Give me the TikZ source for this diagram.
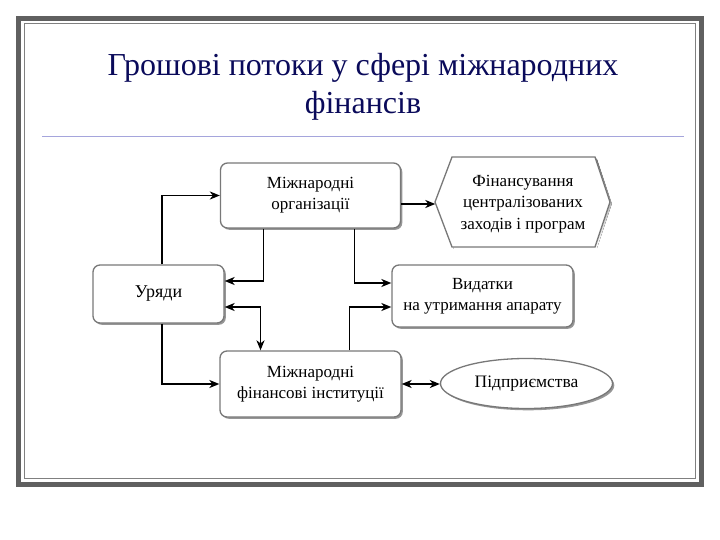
\documentclass[tikz,border=0pt]{standalone}
\usepackage{fontspec}
\setmainfont{Liberation Serif}
\usetikzlibrary{shapes.geometric,arrows.meta,shadows,calc}
\definecolor{titleblue}{RGB}{10,10,90}
\definecolor{rulelav}{RGB}{165,165,220}
\definecolor{boxedge}{RGB}{120,120,120}
\definecolor{shade}{RGB}{150,150,150}
\begin{document}
\begin{tikzpicture}[x=1pt,y=-1pt,
  box/.style={draw=boxedge, line width=1.3pt, rounded corners=7pt, fill=white,
    drop shadow={shadow xshift=1.8pt,shadow yshift=-1.8pt,fill=shade,opacity=1},
    inner sep=0pt, align=center, font=\fontsize{17}{21}\selectfont},
  oval/.style={ellipse, draw=boxedge, line width=1.3pt, fill=white,
    drop shadow={shadow xshift=1.8pt,shadow yshift=-1.8pt,fill=shade,opacity=1},
    inner sep=0pt, font=\fontsize{17.5}{21}\selectfont},
  conn/.style={line width=1.7pt, -{Stealth[length=10pt,width=8pt,inset=3pt]}},
  biconn/.style={line width=1.7pt, {Stealth[length=10pt,width=8pt,inset=3pt]}-{Stealth[length=10pt,width=8pt,inset=3pt]}},
]
\useasboundingbox (0,0) rectangle (720,540);
% frame
\draw[line width=5pt, gray!75!black] (18.5,18.5) rectangle (701.5,484.5);
\draw[line width=1pt, gray] (24,24) rectangle (695.5,478);
% title
\node[font=\fontsize{32}{38}\selectfont, text=titleblue, align=center] (title) at (363,87)
  {Грошові потоки у сфері міжнародних\\фінансів};
\draw[rulelav, line width=0.8pt] (42,136) -- (684,136);
% hexagon (drawn behind its node)
\fill[shade] (453.8,158.8) -- (596.8,158.8) -- (611.8,203.8) -- (596.8,248.8) -- (453.8,248.8) -- (436.8,203.8) -- cycle;
\filldraw[draw=boxedge, fill=white, line width=1.3pt] (452,157) -- (595,157) -- (610,202) -- (595,247) -- (452,247) -- (435,202) -- cycle;
\node[minimum width=175, minimum height=90, inner sep=0pt, align=center,
  font=\fontsize{17}{21.5}\selectfont] (hex) at (523,204)
  {Фінансування\\централізованих\\заходів і програм};
% boxes
\node[box, minimum width=180, minimum height=65] (mo) at (310.5,195.5) {Міжнародні\\організації};
\node[box, minimum width=131, minimum height=58, font=\fontsize{18}{21}\selectfont] (ur) at (158.5,294) {Уряди};
\node[box, minimum width=181, minimum height=62] (vy) at (482.5,296) {Видатки\\на утримання апарату};
\node[box, minimum width=181, minimum height=66] (mfi) at (310.5,384) {Міжнародні\\фінансові інституції};
\node[oval, minimum width=172, minimum height=50] (pid) at (526.5,383.5) {Підприємства};
% connectors
\draw[conn] ([xshift=3.5pt]ur.north) |- (mo.west);
\draw[conn] ([xshift=-47pt]mo.south) |- ([yshift=13pt]ur.east);
\draw[conn] ([xshift=44pt]mo.south) |- ([yshift=13pt]vy.west);
\draw[conn] (mo.east |- hex.west) -- (hex.west);
\draw[biconn] ([yshift=-13pt]ur.east) -| ([xshift=-50pt]mfi.north);
\draw[conn] ([xshift=3.5pt]ur.south) |- (mfi.west);
\draw[conn] ([xshift=39pt]mfi.north) |- ([yshift=-11pt]vy.west);
\draw[biconn] (mfi.east) -- (mfi.east -| pid.west);
\end{tikzpicture}
\end{document}
